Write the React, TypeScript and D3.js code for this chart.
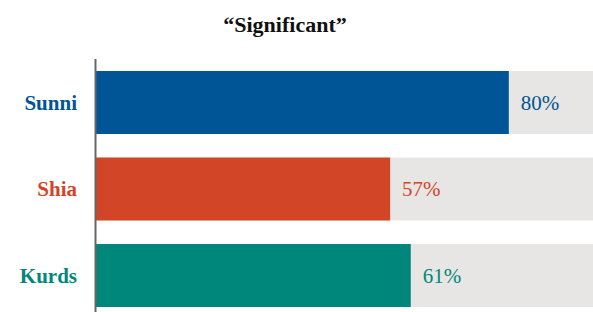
import React from 'react';
import * as d3 from 'd3';

const groups = ['Sunni', 'Shia', 'Kurds'];
const values = [80, 57, 61];
const colors = ['#005596', '#d24527', '#00877b'];
const title = '\u201cSignificant\u201d';

export default function App() {
  const width = 593, height = 312;
  const margin = { top: 59, left: 96 };

  // full scale runs past the right edge of the window, so the grey tracks are cut off
  const x = d3.scaleLinear().domain([0, 100]).range([margin.left, 612]);
  const y = d3.scaleBand().domain(groups).range([71, 307]).paddingInner(0.272).paddingOuter(0);

  const font = '"Liberation Serif", "Times New Roman", serif';

  return (
    <svg width={width} height={height} style={{ position: 'absolute', left: 0, top: 0, display: 'block' }}>
      <text x={285} y={32} textAnchor="middle" fontFamily={font} fontWeight="bold" fontSize={22} fill="#111">
        {title}
      </text>
      {groups.map((g, i) => {
        const yy = y(g) as number;
        const bh = y.bandwidth();
        return (
          <g key={g}>
            <rect x={x(0)} y={yy} width={x(100) - x(0)} height={bh} fill="#e8e6e4" />
            <rect x={x(0)} y={yy} width={x(values[i]) - x(0)} height={bh} fill={colors[i]} />
            <text x={77} y={yy + bh / 2} dy="0.35em" textAnchor="end" fontFamily={font} fontWeight="bold" fontSize={21} fill={colors[i]}>
              {g}
            </text>
            <text x={x(values[i]) + 12} y={yy + bh / 2} dy="0.35em" fontFamily={font} fontSize={21} fill={colors[i]}>
              {values[i] + '%'}
            </text>
          </g>
        );
      })}
      <line x1={x(0) - 0.5} x2={x(0) - 0.5} y1={margin.top} y2={height} stroke="#666" strokeWidth={2} />
    </svg>
  );
}
